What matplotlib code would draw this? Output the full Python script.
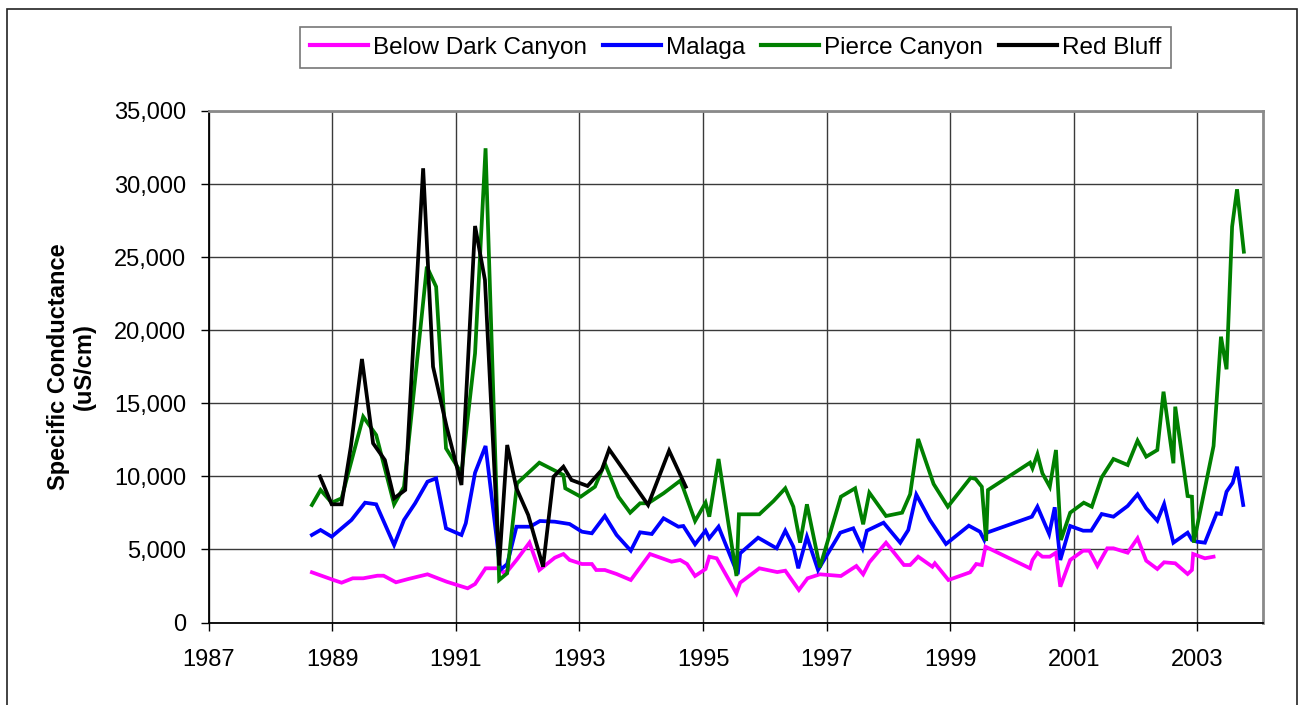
import matplotlib
matplotlib.use("Agg")
import matplotlib.pyplot as plt
from matplotlib.patches import Rectangle

plt.rcParams['font.family'] = ['Liberation Sans', 'DejaVu Sans']

# Sampling dates (decimal years) and specific conductance (uS/cm) per station
bdc_year = [1988.67, 1989.02, 1989.15, 1989.33, 1989.50, 1989.73, 1989.83, 1990.03, 1990.23,
            1990.54, 1990.85, 1991.19, 1991.31, 1991.48, 1991.70, 1991.77, 1991.85, 1991.99,
            1992.19, 1992.35, 1992.60, 1992.74, 1992.84, 1993.04, 1993.20, 1993.27, 1993.41,
            1993.60, 1993.83, 1994.14, 1994.49, 1994.63, 1994.74, 1994.87, 1995.04, 1995.10,
            1995.22, 1995.54, 1995.60, 1995.91, 1996.20, 1996.33, 1996.55, 1996.69, 1996.89,
            1997.23, 1997.48, 1997.59, 1997.69, 1997.96, 1998.25, 1998.35, 1998.48, 1998.71,
            1998.75, 1998.97, 1999.32, 1999.42, 1999.51, 1999.57, 2000.29, 2000.33, 2000.41,
            2000.49, 2000.61, 2000.71, 2000.78, 2000.94, 2001.15, 2001.25, 2001.38, 2001.54,
            2001.64, 2001.87, 2002.03, 2002.17, 2002.35, 2002.46, 2002.64, 2002.84, 2002.91,
            2002.93, 2003.12, 2003.26]
bdc_sc = [3435, 2908, 2723, 3024, 3024, 3202, 3202, 2751, 2977,
          3298, 2792, 2340, 2634, 3709, 3709, 3408, 3592, 4325,
          5461, 3592, 4434, 4687, 4277, 4003, 4003, 3592, 3592,
          3319, 2908, 4687, 4160, 4277, 4003, 3182, 3660, 4503,
          4393, 1998, 2723, 3709, 3450, 3545, 2224, 3024, 3298,
          3182, 3866, 3298, 4120, 5461, 3935, 3935, 4503, 3818,
          4051, 2908, 3435, 4003, 3935, 5187, 3709, 4277, 4776,
          4503, 4503, 4776, 2450, 4277, 4913, 4913, 3866, 5077,
          5077, 4776, 5762, 4229, 3660, 4120, 4051, 3319, 3592,
          4687, 4393, 4503]

malaga_year = [1988.67, 1988.81, 1988.99, 1989.31, 1989.53, 1989.71, 1990.00, 1990.16, 1990.34,
               1990.54, 1990.68, 1990.84, 1991.09, 1991.16, 1991.31, 1991.48, 1991.72, 1991.83,
               1991.98, 1992.20, 1992.36, 1992.60, 1992.84, 1993.04, 1993.20, 1993.41, 1993.60,
               1993.83, 1993.98, 1994.17, 1994.36, 1994.60, 1994.68, 1994.87, 1995.04, 1995.10,
               1995.25, 1995.56, 1995.60, 1995.89, 1996.19, 1996.33, 1996.46, 1996.54, 1996.68,
               1996.86, 1997.22, 1997.43, 1997.58, 1997.65, 1997.92, 1998.19, 1998.32, 1998.45,
               1998.67, 1998.93, 1999.30, 1999.48, 1999.55, 1999.59, 2000.32, 2000.41, 2000.60,
               2000.69, 2000.78, 2000.94, 2001.15, 2001.28, 2001.45, 2001.64, 2001.87, 2002.03,
               2002.17, 2002.35, 2002.46, 2002.61, 2002.84, 2002.91, 2002.99, 2003.12, 2003.31,
               2003.38, 2003.47, 2003.57, 2003.64, 2003.74]
malaga_sc = [5988, 6330, 5872, 7014, 8198, 8088, 5303, 7014, 8156,
             9635, 9867, 6446, 5988, 6788, 10250, 12078, 3600, 4000,
             6555, 6555, 6945, 6898, 6740, 6213, 6104, 7288, 5988,
             4913, 6172, 6056, 7130, 6555, 6603, 5351, 6282, 5762,
             6555, 3300, 4735, 5803, 5077, 6282, 5187, 3709, 5871,
             3592, 6145, 6446, 5077, 6282, 6829, 5461, 6330, 8750,
             7014, 5371, 6624, 6213, 5645, 6145, 7240, 7924, 6056,
             7883, 4277, 6603, 6282, 6282, 7424, 7240, 7972, 8772,
             7814, 6966, 8109, 5461, 6145, 5645, 5530, 5461, 7472,
             7424, 8950, 9566, 10660, 8040]

pierce_year = [1988.67, 1988.81, 1988.99, 1989.15, 1989.50, 1989.71, 1990.00, 1990.16, 1990.53,
               1990.68, 1990.84, 1991.09, 1991.31, 1991.48, 1991.70, 1991.83, 1991.99, 1992.35,
               1992.74, 1992.77, 1993.02, 1993.25, 1993.41, 1993.63, 1993.82, 1993.98, 1994.11,
               1994.36, 1994.63, 1994.68, 1994.87, 1995.04, 1995.10, 1995.25, 1995.54, 1995.58,
               1995.91, 1996.14, 1996.33, 1996.46, 1996.57, 1996.68, 1996.89, 1997.23, 1997.46,
               1997.59, 1997.69, 1997.96, 1998.22, 1998.35, 1998.48, 1998.73, 1998.96, 1999.33,
               1999.41, 1999.51, 1999.58, 1999.61, 2000.29, 2000.33, 2000.41, 2000.49, 2000.61,
               2000.71, 2000.79, 2000.94, 2001.16, 2001.29, 2001.45, 2001.64, 2001.87, 2002.03,
               2002.17, 2002.35, 2002.45, 2002.61, 2002.64, 2002.84, 2002.91, 2002.94, 2003.26,
               2003.38, 2003.47, 2003.56, 2003.64, 2003.75]
pierce_sc = [8040, 9067, 8200, 8498, 14083, 12830, 8088, 9290, 24347,
             22978, 11918, 10210, 18420, 32450, 2908, 3367, 9525, 10935,
             10093, 9183, 8608, 9290, 10894, 8608, 7514, 8156, 8156,
             8841, 9703, 9183, 6945, 8198, 7240, 11188, 3180, 7404,
             7404, 8314, 9183, 7924, 5461, 8088, 3777, 8608, 9183,
             6720, 8882, 7288, 7514, 8772, 12557, 9477, 7924, 9909,
             9820, 9290, 5577, 9067, 10935, 10552, 11510, 10210, 9290,
             11804, 5645, 7514, 8198, 7924, 9935, 11188, 10777, 12443,
             11347, 11804, 15794, 10894, 14768, 8654, 8608, 5461, 12078,
             19556, 17326, 27084, 29643, 25372]

redbluff_year = [1988.80, 1988.99, 1989.15, 1989.30, 1989.48, 1989.66, 1989.85, 1990.00, 1990.18,
                 1990.47, 1990.63, 1990.85, 1991.09, 1991.31, 1991.47, 1991.70, 1991.83, 1991.98,
                 1992.17, 1992.41, 1992.58, 1992.74, 1992.87, 1993.13, 1993.36, 1993.48, 1994.11,
                 1994.45, 1994.72]
redbluff_sc = [10000, 8088, 8088, 12030, 18030, 12262, 11120, 8498, 9067,
               31080, 17505, 13398, 9409, 27132, 23436, 3900, 12146, 9183,
               7356, 3818, 9976, 10660, 9750, 9340, 10435, 11850, 8040,
               11757, 9290]

series_names = ["Below Dark Canyon", "Malaga", "Pierce Canyon", "Red Bluff"]
series_colors = ["#FF00FF", "#0000FF", "#008000", "#000000"]
year_ticks = list(range(1987, 2004, 2))
sc_ticks = list(range(0, 35001, 5000))

W, H = 1299, 705
fig = plt.figure(figsize=(W / 100, H / 100), dpi=100)
ax = fig.add_axes([208.7 / W, 1 - 622.5 / H, (1263 - 208.7) / W, (622.5 - 111) / H])

series = [(bdc_year, bdc_sc), (malaga_year, malaga_sc),
          (pierce_year, pierce_sc), (redbluff_year, redbluff_sc)]
for (xs, ys), name, col in zip(series, series_names, series_colors):
    ax.plot(xs, ys, color=col, lw=2.7, label=name, solid_joinstyle='miter', zorder=3)

ax.set_xlim(1987, 2004.06)
ax.set_ylim(0, 35000)
ax.set_xticks(year_ticks)
ax.set_xticklabels([str(y) for y in year_ticks])
ax.set_yticks(sc_ticks)
ax.set_yticklabels([f"{v:,}" for v in sc_ticks])
ax.tick_params(axis='both', direction='out', length=6, width=1, color='black',
               labelsize=17)
ax.tick_params(axis='y', pad=10)
ax.tick_params(axis='x', pad=13)

ax.grid(True, color='#3a3a3a', lw=1.0, zorder=1)
ax.set_axisbelow(True)

for side in ('top', 'right'):
    ax.spines[side].set_color('#8a8a8a')
    ax.spines[side].set_linewidth(2.0)
for side in ('left', 'bottom'):
    ax.spines[side].set_color('black')
    ax.spines[side].set_linewidth(1.3)

fig.text(71.5 / W, 1 - 366.5 / H, "Specific Conductance\n(uS/cm)", rotation=90,
         ha='center', va='center', multialignment='center', fontsize=17,
         fontweight='bold', linespacing=1.2)

leg = ax.legend(loc='center', bbox_to_anchor=(735.5 / W, 1 - 47.5 / H),
                bbox_transform=fig.transFigure, ncol=4, fontsize=17.5,
                frameon=True, fancybox=False, edgecolor='#555555',
                handlelength=2.4, handletextpad=0.2, columnspacing=0.65,
                borderpad=0.4, borderaxespad=0)
leg.get_frame().set_linewidth(1.2)
for line in leg.get_lines():
    line.set_linewidth(3.0)

# Outer border of the figure panel
fig.add_artist(Rectangle((7 / W, -0.05), (1297 - 7) / W, 1 - 9 / H + 0.05,
                         transform=fig.transFigure, fill=False,
                         edgecolor='#222222', lw=1.2))

fig.savefig("out.png", dpi=100, facecolor='white')
